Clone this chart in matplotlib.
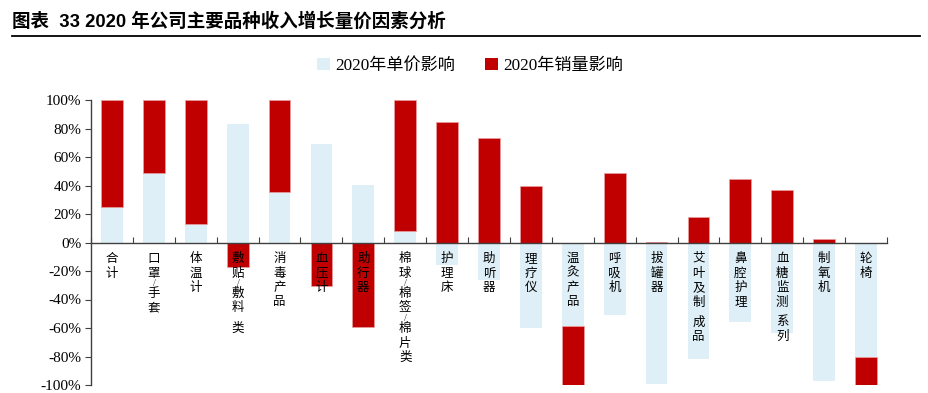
import matplotlib
matplotlib.use("Agg")
import matplotlib.pyplot as plt
from matplotlib.lines import Line2D
from matplotlib.patches import Patch
import numpy as np

plt.rcParams['font.family'] = ['Liberation Serif', 'Noto Sans CJK SC', 'DejaVu Sans']

categories = ["合计", "口罩/手套", "体温计", "敷贴/敷料\n类", "消毒产品", "血压计", "助行器",
              "棉球/棉签/棉片类", "护理床", "助听器", "理疗仪", "温灸产品", "呼吸机", "拔罐器",
              "艾叶及制\n成品", "鼻腔护理", "血糖监测\n系列", "制氧机", "轮椅"]
price_share = [25, 49, 13.3, 83, 35.4, 69.3, 40.7, 8.4, -15.7, -26.5, -60, -58.8, -51,
               -99.6, -82, -55.7, -63.2, -97.4, -80]
volume_share = [75, 51, 86.7, -17, 64.6, -30.7, -59.3, 91.6, 84.3, 73.5, 40, -41.2, 49,
                0.4, 18, 44.3, 36.8, 2.6, -20]
yticks = [-100, -80, -60, -40, -20, 0, 20, 40, 60, 80, 100]
series_names = ["2020年单价影响", "2020年销量影响"]
title = "图表  33 2020 年公司主要品种收入增长量价因素分析"

c_price = "#DEEFF7"
c_vol = "#C00000"

fig = plt.figure(figsize=(9.29, 3.93), dpi=100)
ax = fig.add_axes([91/929, 1-385/393, (887-91)/929, (385-100)/393])

p = np.array(price_share) / 100
v = np.array(volume_share) / 100
x = np.arange(len(categories))
bottom_v = np.where(np.sign(p) == np.sign(v), p, 0)

ax.bar(x, p, width=0.52, color=c_price, edgecolor='none', zorder=2)
ax.bar(x, v, width=0.52, bottom=bottom_v, color=c_vol, edgecolor='#E8A0A0', linewidth=0.5, zorder=2)

ax.set_xlim(-0.5, len(categories) - 0.5)
ax.set_ylim(-1, 1)
ax.set_yticks([t / 100 for t in yticks])
ax.set_yticklabels([f"{t}%" for t in yticks], fontsize=11, family=['Liberation Serif'])

for s in ['top', 'right']:
    ax.spines[s].set_visible(False)
ax.spines['bottom'].set_position(('data', 0))
ax.spines['left'].set_color('#404040')
ax.spines['bottom'].set_color('#404040')
ax.spines['left'].set_linewidth(1.0)
ax.spines['bottom'].set_linewidth(1.0)
ax.tick_params(axis='y', direction='out', length=4, color='#404040', pad=3)
ax.set_xticks(np.arange(-0.5, len(categories), 1.0))
ax.set_xticklabels([])
ax.tick_params(axis='x', direction='in', length=4, color='#404040')

# vertical stacked category labels (px offsets converted to points)
px2pt = 72 / 100
for i, c in enumerate(categories):
    cy = 16.0  # centre of first glyph below the zero line, px
    for ch in c:
        if ch == '\n':
            cy += 5.5
            continue
        if ch == '/':
            sy = cy - 14.5 + 10.5
            ax.annotate('/', xy=(i, 0), xytext=(0.5, -sy * px2pt), textcoords='offset points',
                        ha='center', va='center', fontsize=7.5, family=['Liberation Serif'],
                        color='#333333', zorder=3)
            cy += 6
            continue
        ax.annotate(ch, xy=(i, 0), xytext=(0, -cy * px2pt), textcoords='offset points',
                    ha='center', va='center', fontsize=9, family=['Noto Sans CJK SC'], zorder=3)
        cy += 14.5

handles = [Patch(facecolor=c_price, edgecolor='none'), Patch(facecolor=c_vol, edgecolor='none')]
fig.legend(handles, series_names, loc='center', bbox_to_anchor=(470/929, 1-66/393), ncol=2,
           frameon=False, handlelength=0.75, handleheight=0.75, handletextpad=0.3,
           columnspacing=1.8, prop={'family': ['Liberation Serif', 'Noto Sans CJK SC'], 'size': 12.3})

fig.text(12/929, 1-21/393, title, ha='left', va='center', fontsize=13.3, fontweight='bold',
         family=['Liberation Sans', 'Noto Sans CJK SC'])
fig.add_artist(Line2D([12/929, 920/929], [1-35.5/393, 1-35.5/393], color='black', linewidth=1.3))

fig.savefig("out.png", dpi=100)
